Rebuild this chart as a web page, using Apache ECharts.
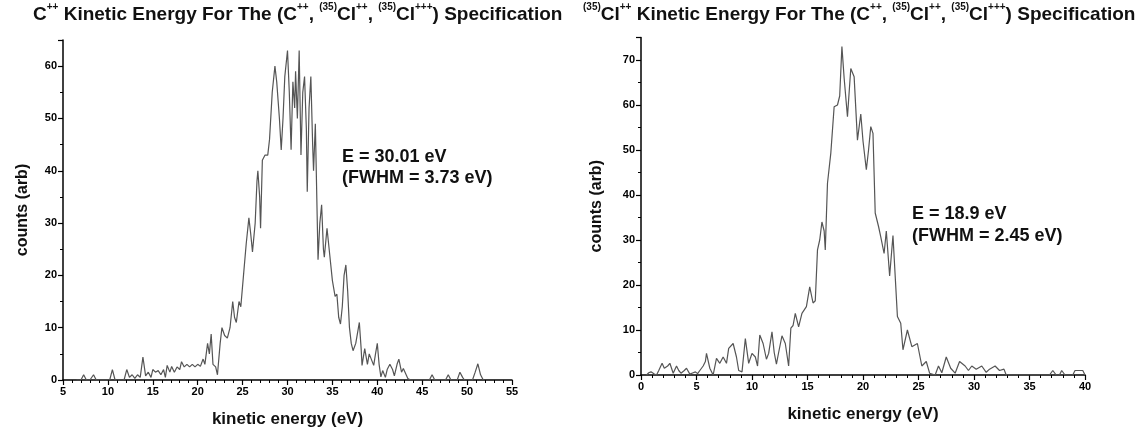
<!DOCTYPE html>
<html>
<head>
<meta charset="utf-8">
<script src="https://cdn.jsdelivr.net/npm/echarts@6/dist/echarts.min.js"></script>
<style>
html,body{margin:0;padding:0;background:#fff;}
#chart{width:1145px;height:433px;}
</style>
</head>
<body>
<div id="chart"></div>
<script>
// Left panel: C++ kinetic energy
const xLeft = [6.5,7.0,7.3,7.6,8.0,8.4,8.7,10.2,10.5,10.8,11.8,12.1,12.4,12.7,13.0,13.3,13.6,13.9,14.2,14.5,14.8,15.0,15.3,15.6,15.9,16.2,16.4,16.6,16.9,17.1,17.4,17.7,18.0,18.2,18.5,18.8,19.1,19.4,19.7,20.0,20.3,20.6,20.8,21.1,21.3,21.5,21.7,22.0,22.2,22.5,22.7,23.0,23.3,23.6,23.9,24.1,24.3,24.6,24.8,25.1,25.4,25.7,25.9,26.1,26.4,26.6,26.7,26.9,27.0,27.2,27.5,27.8,28.0,28.3,28.6,28.8,29.1,29.3,29.5,29.7,30.0,30.2,30.4,30.6,30.8,30.9,31.1,31.3,31.5,31.7,31.9,32.1,32.2,32.4,32.6,32.8,32.9,33.1,33.2,33.4,33.6,33.8,34.0,34.1,34.4,34.7,35.0,35.3,35.5,35.7,35.9,36.1,36.3,36.5,36.7,36.9,37.1,37.3,37.6,37.8,38.0,38.2,38.3,38.6,38.9,39.1,39.3,39.6,39.8,40.0,40.2,40.4,40.6,40.9,41.1,41.4,41.7,41.9,42.2,42.4,42.7,42.9,43.1,43.4,43.7,45.8,46.1,46.4,47.6,47.9,48.2,48.9,49.2,49.5,49.7,50.6,50.9,51.2,51.5,51.8];
const yLeft = [0,0,1,0,0,1,0,0,2,0,0,2,0.5,1,0.3,1,0.5,4.4,0.8,1.5,0.5,2,1.5,1.8,1,2,0.5,2.8,1.5,2.6,1.5,2.5,2,3.5,2.5,3,2.5,3,2.5,3,2.6,4,3,7,5,8.8,3,2.5,1,7,10,8.5,8,10,15,12,11,15,14,20,26,31,28,24.5,30,38,40,35,29,42,43,43,46,55,60,57,50,44,50,58,63,55,44,57,52,59,50,63,43,55,58,48,36,52,58,45,40,49,49,23,30,33.5,25,23.5,29,24,19,16,16.4,12,10.7,14,20,22,17,10,7,5.6,7,9,11,6,2.8,6,3,5,5.2,2.8,5,7,3,0.6,1.8,0.5,2,3,2,0.8,3,4,1.5,2.2,2.2,0.3,0,0,1,0,0,1,0,0,1.5,0.5,0,0,1.5,3.1,1,0];

// Right panel: (35)Cl++ kinetic energy
const xRight = [0.5,0.7,0.9,1.2,1.4,1.6,1.9,2.1,2.4,2.6,2.9,3.2,3.4,3.6,3.9,4.1,4.4,4.7,4.9,5.1,5.3,5.6,5.8,5.9,6.2,6.5,6.8,7.1,7.4,7.7,7.9,8.3,8.6,8.8,9.1,9.4,9.7,10.0,10.3,10.5,10.7,11.0,11.3,11.5,11.8,12.0,12.2,12.4,12.7,13.0,13.3,13.5,13.7,13.9,14.2,14.5,14.9,15.2,15.5,15.7,15.9,16.1,16.3,16.5,16.6,16.8,17.1,17.4,17.7,17.9,18.1,18.3,18.6,18.9,19.2,19.5,19.8,20.0,20.3,20.5,20.7,20.9,21.1,21.4,21.6,21.9,22.1,22.4,22.7,23.1,23.4,23.6,24.0,24.4,24.9,25.3,25.7,26.0,26.5,26.8,27.1,27.5,27.9,28.3,28.7,29.2,29.5,29.8,30.2,30.7,31.1,31.4,31.9,32.3,32.7,32.9,36.8,37.1,37.4,37.7,37.9,38.2,38.9,39.1,39.5,39.8,40.0];
const yRight = [0,0.5,0.7,0.2,0,1,2.6,1.5,2,2.6,0.4,2,1,0.4,1,1.5,0.2,0.5,0.7,0.3,1,2,3,4.8,1.5,0,3.7,2.6,4,2.6,5.9,7,4,1,0.7,8.1,2.6,4.8,4,2,8.9,7,3.5,4.8,9.6,5,2.4,5,8.7,7,2,10.4,11,13.7,10.7,13.7,15.2,19.6,16,16.5,27.8,30,34,32,27.8,42.6,49.3,59.6,60,62,73,66,57.4,68.1,66.3,52.2,58,52,45.6,50,55.2,53.7,36,33,30.7,27,32,22,31,13,11.5,5.6,10,6.3,7,2,3,0.4,0,2,0.5,4,1.5,0.4,3,2,1,2,1.3,2,0.6,1.3,2,1,1.3,0,0,1,0,0,1,0,0,1,1,1,0];

const leftTicksX = {min: 5, max: 55, interval: 5};
const leftTicksY = {min: 0, max: 65, interval: 10};
const rightTicksX = {min: 0, max: 40, interval: 5};
const rightTicksY = {min: 0, max: 75, interval: 10};

const titleLeft = '{m|C}{s|++}{m| Kinetic Energy For The (C}{s|++}{m|, }{s|(35)}{m|Cl}{s|++}{m|, }{s|(35)}{m|Cl}{s|+++}{m|) Specification}';
const titleRight = '{s|(35)}{m|Cl}{s|++}{m| Kinetic Energy For The (C}{s|++}{m|, }{s|(35)}{m|Cl}{s|++}{m|, }{s|(35)}{m|Cl}{s|+++}{m|) Specification}';
const annLeft = ['E = 30.01 eV', '(FWHM = 3.73 eV)'];
const annRight = ['E = 18.9 eV', '(FWHM = 2.45 eV)'];

const FONT = 'Liberation Sans, Arial, sans-serif';
const pairs = (xs, ys) => xs.map((x, i) => [x, ys[i]]);

const richTitle = {
  m: {fontSize: 19, fontWeight: 'bold', fontFamily: FONT, color: '#111', lineHeight: 22, verticalAlign: 'bottom'},
  s: {fontSize: 10, fontWeight: 'bold', fontFamily: FONT, color: '#111', lineHeight: 22, verticalAlign: 'top'}
};

function xAxis(idx, t) {
  return {
    type: 'value', gridIndex: idx, min: t.min, max: t.max, interval: t.interval,
    name: 'kinetic energy (eV)', nameLocation: 'middle', nameGap: 31,
    nameTextStyle: {fontSize: 17, fontWeight: 'bold', fontFamily: FONT, color: '#111'},
    axisLine: {show: true, onZero: false, lineStyle: {color: '#000', width: 1.5}},
    axisTick: {show: true, length: 5, lineStyle: {color: '#000', width: 1.2}},
    minorTick: {show: true, splitNumber: 5, length: 3, lineStyle: {color: '#000', width: 1}},
    axisLabel: {fontSize: 11, fontFamily: FONT, color: '#000', fontWeight: 'bold', margin: 6, showMaxLabel: true},
    splitLine: {show: false}
  };
}
function yAxis(idx, t, gap) {
  return {
    type: 'value', gridIndex: idx, min: t.min, max: t.max, interval: t.interval,
    name: 'counts (arb)', nameLocation: 'middle', nameGap: gap,
    nameTextStyle: {fontSize: 16, fontWeight: 'bold', fontFamily: FONT, color: '#111'},
    axisLine: {show: true, lineStyle: {color: '#000', width: 1.5}},
    axisTick: {show: true, length: 5, lineStyle: {color: '#000', width: 1.2}},
    minorTick: {show: true, splitNumber: 2, length: 3, lineStyle: {color: '#000', width: 1}},
    axisLabel: {fontSize: 11, fontFamily: FONT, color: '#000', fontWeight: 'bold', margin: 6, showMaxLabel: false},
    splitLine: {show: false}
  };
}

const chart = echarts.init(document.getElementById('chart'), null, {renderer: 'canvas'});
chart.setOption({
  backgroundColor: '#fff',
  animation: false,
  title: [
    {text: titleLeft, left: 33, top: 2, padding: 0, textStyle: {rich: richTitle}},
    {text: titleRight, left: 583, top: 2, padding: 0, textStyle: {rich: richTitle}}
  ],
  grid: [
    {left: 63, right: 633, top: 40, bottom: 50},
    {left: 641, right: 60, top: 37.5, bottom: 58}
  ],
  xAxis: [xAxis(0, leftTicksX), xAxis(1, rightTicksX)],
  yAxis: [yAxis(0, leftTicksY, 32), yAxis(1, rightTicksY, 36)],
  graphic: [
    {type: 'text', left: 342, top: 147, style: {text: annLeft.join('\n'), font: 'bold 18px ' + FONT, fill: '#111', lineHeight: 21}},
    {type: 'text', left: 912, top: 203, style: {text: annRight.join('\n'), font: 'bold 18px ' + FONT, fill: '#111', lineHeight: 22}}
  ],
  series: [
    {type: 'line', xAxisIndex: 0, yAxisIndex: 0, data: pairs(xLeft, yLeft), showSymbol: false,
     lineStyle: {color: '#555', width: 1.2}},
    {type: 'line', xAxisIndex: 1, yAxisIndex: 1, data: pairs(xRight, yRight), showSymbol: false,
     lineStyle: {color: '#555', width: 1.2}}
  ]
});
</script>
</body>
</html>
